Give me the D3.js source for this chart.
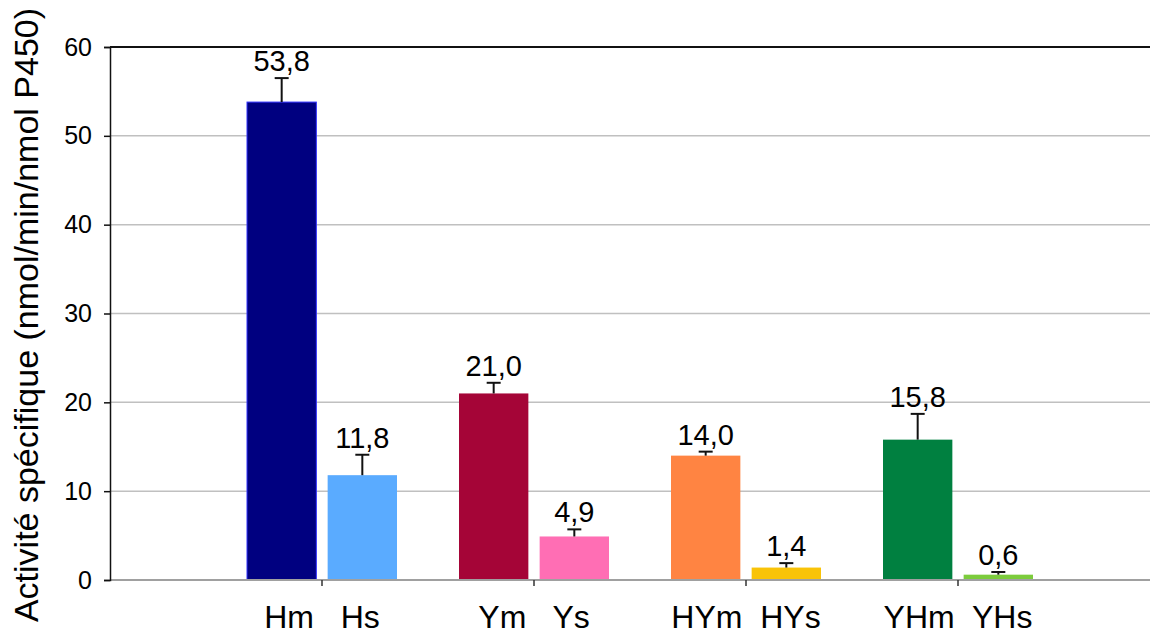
<!DOCTYPE html>
<html>
<head>
<meta charset="utf-8">
<script src="https://cdn.jsdelivr.net/npm/d3@7/dist/d3.min.js"></script>
<style>
  html, body { margin: 0; padding: 0; background: #fff; }
  svg { display: block; font-family: "Liberation Sans", Arial, sans-serif; }
</style>
</head>
<body>
<svg id="chart" width="1157" height="635"></svg>
<script>
// Group tick labels (two bars per group)
const groups = ["Hm   Hs", "Ym   Ys", "HYm  HYs", "YHm  YHs"];
const series = ["m", "s"];
// Bars, in drawing order
const bars = ["Hm", "Hs", "Ym", "Ys", "HYm", "HYs", "YHm", "YHs"];
const values = [53.8, 11.8, 21.0, 4.9, 14.0, 1.4, 15.8, 0.6];
const errors = [2.7, 2.3, 1.2, 0.8, 0.45, 0.5, 2.9, 0.3];
const colors = ["#000080", "#5aabff", "#a50537", "#ff6eb4", "#ff8442", "#f9c308", "#008040", "#7ccc3c"];
const yTicks = [0, 10, 20, 30, 40, 50, 60];
const yTitle = "Activité spécifique (nmol/min/nmol P450)";

const svg = d3.select("#chart");
const plotLeft = 110, plotRight = 1150, plotTop = 47, plotBottom = 580;

const y = d3.scaleLinear().domain([0, 60]).range([plotBottom, plotTop]);
const x = d3.scaleBand().domain(groups).range([216, 1064]).paddingInner(0);
const xs = d3.scaleBand().domain(series).range([-75, 75]).paddingInner(0.14);

const fr = d3.formatLocale({ decimal: ",", thousands: " ", grouping: [3], currency: ["", ""] });
const fmt = fr.format(".1f");

// horizontal gridlines
svg.append("g").selectAll("line")
  .data(yTicks.filter(d => d > 0 && d < 60))
  .join("line")
  .attr("x1", plotLeft).attr("x2", plotRight)
  .attr("y1", d => y(d)).attr("y2", d => y(d))
  .attr("stroke", "#c0c0c0").attr("stroke-width", 1.5);

// top frame line
svg.append("line")
  .attr("x1", plotLeft).attr("x2", plotRight)
  .attr("y1", y(60)).attr("y2", y(60))
  .attr("stroke", "#111").attr("stroke-width", 2);

const rows = bars.map((name, i) => ({
  name, value: values[i], err: errors[i], color: colors[i],
  group: groups[Math.floor(i / 2)], s: series[i % 2]
}));
const bx = d => x(d.group) + x.bandwidth() / 2 + xs(d.s);

// bars
svg.append("g").selectAll("rect")
  .data(rows)
  .join("rect")
  .attr("x", bx)
  .attr("width", xs.bandwidth())
  .attr("y", d => y(d.value))
  .attr("height", d => y(0) - y(d.value))
  .attr("fill", d => d.color)
  .attr("stroke", d => d.name === "Hm" ? "#3333ff" : "none")
  .attr("stroke-width", 1);

// baseline
svg.append("line")
  .attr("x1", plotLeft).attr("x2", plotRight)
  .attr("y1", y(0)).attr("y2", y(0))
  .attr("stroke", "#a0a0a0").attr("stroke-width", 2);

// category ticks
svg.append("g").selectAll("line")
  .data(groups)
  .join("line")
  .attr("x1", d => x(d) + x.bandwidth() / 2).attr("x2", d => x(d) + x.bandwidth() / 2)
  .attr("y1", y(0)).attr("y2", y(0) + 6)
  .attr("stroke", "#333").attr("stroke-width", 1.5);

// error bars (upper)
const eb = svg.append("g").attr("stroke", "#111").attr("stroke-width", 2);
rows.forEach(d => {
  const cx = bx(d) + xs.bandwidth() / 2;
  eb.append("line").attr("x1", cx).attr("x2", cx)
    .attr("y1", y(d.value)).attr("y2", y(d.value + d.err));
  eb.append("line").attr("x1", cx - 7).attr("x2", cx + 7)
    .attr("y1", y(d.value + d.err)).attr("y2", y(d.value + d.err));
});

// value labels
svg.append("g").selectAll("text")
  .data(rows)
  .join("text")
  .attr("x", d => bx(d) + xs.bandwidth() / 2)
  .attr("y", d => y(d.value + d.err) - 7)
  .attr("text-anchor", "middle")
  .attr("font-size", 29)
  .attr("fill", "#000")
  .text(d => fmt(d.value));

// y axis
const yAxis = svg.append("g")
  .attr("transform", `translate(${plotLeft},0)`)
  .call(d3.axisLeft(y).tickValues(yTicks).tickSize(6).tickPadding(12).tickFormat(d3.format("d")));
yAxis.select(".domain").attr("stroke", "#111").attr("stroke-width", 1.5);
yAxis.selectAll(".tick line").attr("stroke", "#111").attr("stroke-width", 1.5);
yAxis.selectAll(".tick text")
  .attr("font-size", 25)
  .attr("font-family", "\"Liberation Sans\", Arial, sans-serif")
  .attr("fill", "#000");

// category labels
svg.append("g").selectAll("text")
  .data(groups)
  .join("text")
  .attr("x", d => x(d) + x.bandwidth() / 2)
  .attr("y", 628)
  .attr("text-anchor", "middle")
  .attr("font-size", 32)
  .attr("fill", "#000")
  .style("white-space", "pre")
  .text(d => d);

// y axis title
svg.append("text")
  .attr("transform", "translate(38,315) rotate(-90)")
  .attr("text-anchor", "middle")
  .attr("font-size", 34)
  .attr("fill", "#000")
  .text(yTitle);
</script>
</body>
</html>
